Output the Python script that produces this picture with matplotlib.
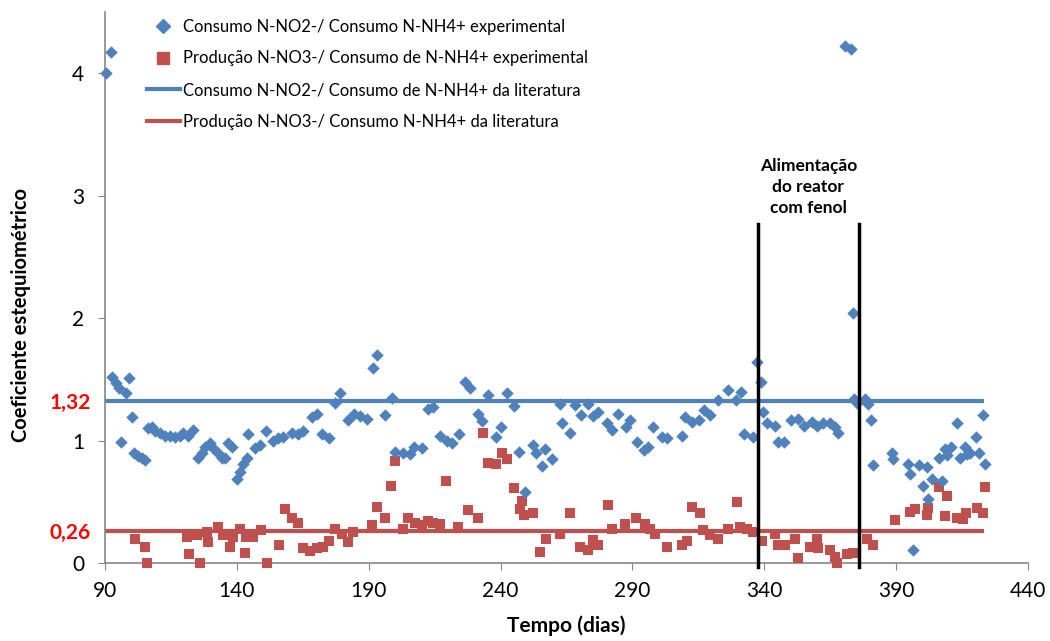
import matplotlib
matplotlib.use("Agg")
import matplotlib.pyplot as plt
from matplotlib.lines import Line2D

plt.rcParams['font.family'] = ['Lato', 'DejaVu Sans']

# Consumo N-NO2- / Consumo N-NH4+ experimental
dias_no2 = [90.4, 92.3, 92.7, 94.2, 95.3, 96.1, 98.0, 99.1, 100.2, 101.0, 102.5, 104.0, 105.2, 106.3, 107.8,
            109.0, 110.9, 112.8, 114.6, 116.5, 118.4, 119.6, 121.5, 123.4, 125.3, 126.8, 127.9, 129.8, 131.0,
            132.9, 134.4, 135.5, 136.6, 138.2, 140.1, 141.2, 142.3, 143.8, 144.2, 146.9, 148.8, 151.1, 153.7,
            155.6, 157.5, 160.9, 163.2, 165.1, 168.5, 170.4, 172.3, 174.9, 177.2, 179.1, 182.2, 184.4, 186.7,
            189.4, 191.6, 193.1, 196.2, 198.8, 200.0, 203.0, 205.7, 207.2, 210.2, 212.5, 214.4, 217.0, 219.7,
            221.6, 224.2, 226.5, 228.4, 231.4, 233.0, 235.2, 238.3, 240.2, 242.4, 245.1, 247.0, 249.3, 252.3,
            253.4, 255.7, 256.9, 259.5, 262.5, 263.3, 266.3, 268.2, 270.5, 273.2, 275.1, 277.0, 280.4, 282.3,
            284.5, 287.6, 289.1, 291.7, 294.4, 296.0, 297.8, 301.2, 303.1, 308.8, 310.0, 312.6, 315.3, 317.2,
            319.4, 322.5, 326.3, 329.3, 331.2, 332.3, 335.7, 337.3, 338.8, 339.5, 341.0, 344.1, 345.2, 347.5,
            350.1, 352.8, 355.1, 358.1, 360.0, 362.3, 364.9, 366.8, 368.0, 370.6, 372.9, 373.7, 374.0, 375.2,
            378.2, 379.4, 380.5, 381.2, 388.4, 388.8, 394.5, 395.3, 396.4, 398.7, 400.2, 401.7, 402.1, 403.6,
            406.3, 407.4, 408.5, 409.3, 410.8, 413.1, 414.2, 416.1, 416.9, 418.0, 420.3, 421.4, 422.9, 423.7]
coef_no2 = [4.00, 4.17, 1.52, 1.47, 1.43, 0.99, 1.39, 1.51, 1.19, 0.90, 0.87, 0.86, 0.84, 1.10, 1.11,
            1.08, 1.06, 1.04, 1.04, 1.03, 1.04, 1.06, 1.04, 1.09, 0.86, 0.90, 0.95, 0.98, 0.94,
            0.90, 0.86, 0.86, 0.98, 0.95, 0.69, 0.74, 0.81, 0.86, 1.05, 0.94, 0.96, 1.08, 1.00,
            1.02, 1.03, 1.06, 1.05, 1.08, 1.19, 1.22, 1.05, 1.02, 1.31, 1.39, 1.17, 1.22, 1.20,
            1.18, 1.59, 1.70, 1.21, 1.35, 0.91, 0.90, 0.89, 0.95, 0.94, 1.26, 1.27, 1.04, 1.00,
            0.98, 1.05, 1.48, 1.43, 1.22, 1.16, 1.37, 1.03, 1.11, 1.39, 1.28, 0.91, 0.58, 0.96,
            0.90, 0.79, 0.93, 0.85, 1.30, 1.14, 1.06, 1.29, 1.21, 1.30, 1.20, 1.23, 1.14, 1.09,
            1.22, 1.11, 1.17, 0.99, 0.92, 0.95, 1.11, 1.03, 1.02, 1.04, 1.19, 1.15, 1.17, 1.25,
            1.21, 1.33, 1.41, 1.33, 1.40, 1.05, 1.03, 1.64, 1.48, 1.23, 1.14, 1.12, 0.99, 0.99,
            1.17, 1.18, 1.12, 1.15, 1.12, 1.14, 1.14, 1.11, 1.06, 4.22, 4.20, 2.04, 1.34, 1.31,
            1.34, 1.30, 1.17, 0.80, 0.90, 0.85, 0.81, 0.73, 0.11, 0.80, 0.63, 0.78, 0.52, 0.69,
            0.86, 0.67, 0.93, 0.88, 0.95, 1.14, 0.86, 0.95, 0.89, 0.90, 1.03, 0.90, 1.21, 0.81]

# Producao N-NO3- / Consumo de N-NH4+ experimental
dias_no3 = [101.4, 105.2, 105.9, 121.1, 121.9, 124.9, 126.0, 128.7, 129.2, 132.9, 134.7, 137.4, 138.5,
            141.2, 143.1, 143.6, 146.1, 149.2, 151.4, 156.0, 158.3, 160.8, 163.2, 165.1, 167.7, 170.4,
            172.7, 174.9, 177.2, 179.9, 182.2, 184.0, 191.3, 193.1, 196.2, 198.5, 200.0, 203.0, 205.0,
            207.6, 210.2, 212.5, 214.4, 217.0, 219.3, 223.9, 227.5, 231.4, 233.3, 235.2, 238.3, 240.5,
            242.4, 245.1, 247.4, 248.1, 248.9, 252.3, 255.0, 257.2, 262.5, 266.3, 270.1, 273.2, 275.1,
            277.0, 280.7, 282.3, 287.2, 291.4, 294.8, 296.7, 298.6, 303.1, 308.8, 310.7, 312.6, 315.6,
            316.8, 319.4, 322.5, 326.3, 329.7, 330.8, 333.5, 335.7, 339.3, 343.9, 345.2, 347.9, 351.7,
            352.8, 357.3, 360.0, 360.5, 364.9, 366.8, 367.6, 371.4, 373.7, 379.0, 381.2, 389.6, 395.3,
            397.2, 401.7, 402.1, 406.3, 408.5, 409.3, 413.1, 415.4, 416.5, 420.7, 423.0, 423.7]
coef_no3 = [0.20, 0.13, 0.00, 0.21, 0.07, 0.23, 0.00, 0.25, 0.17, 0.29, 0.23, 0.13, 0.21,
            0.28, 0.08, 0.21, 0.21, 0.27, 0.00, 0.15, 0.44, 0.37, 0.33, 0.12, 0.10, 0.12,
            0.13, 0.18, 0.28, 0.24, 0.17, 0.25, 0.31, 0.46, 0.37, 0.63, 0.83, 0.28, 0.37,
            0.33, 0.31, 0.34, 0.33, 0.32, 0.67, 0.29, 0.43, 0.37, 1.06, 0.82, 0.81, 0.90,
            0.85, 0.61, 0.44, 0.51, 0.39, 0.41, 0.09, 0.20, 0.24, 0.41, 0.13, 0.11, 0.19,
            0.15, 0.47, 0.28, 0.32, 0.37, 0.32, 0.28, 0.24, 0.13, 0.15, 0.18, 0.46, 0.41,
            0.27, 0.23, 0.20, 0.28, 0.50, 0.29, 0.28, 0.25, 0.18, 0.24, 0.15, 0.15, 0.20,
            0.04, 0.13, 0.20, 0.12, 0.11, 0.05, 0.00, 0.07, 0.08, 0.20, 0.15, 0.35, 0.42,
            0.44, 0.39, 0.45, 0.62, 0.38, 0.55, 0.37, 0.36, 0.41, 0.45, 0.41, 0.62]

# valores da literatura
lit_no2 = 1.32
lit_no3 = 0.26
lit_dias = [90, 423.5]

# periodo de alimentacao com fenol
fenol_inicio = 337.5
fenol_fim = 376.0

azul = '#4F81BD'
vermelho = '#C0504D'
cinza = '#868686'

fig = plt.figure(figsize=(10.5, 6.41), dpi=100)
ax = fig.add_axes([0.1, 0.1217, 0.879, 0.8596])

ax.plot(lit_dias, [lit_no2, lit_no2], color=azul, lw=3, solid_capstyle='butt', zorder=2)
ax.plot(lit_dias, [lit_no3, lit_no3], color=vermelho, lw=3, solid_capstyle='butt', zorder=2)
ax.scatter(dias_no3, coef_no3, marker='s', s=60, color=vermelho, linewidths=0, zorder=3, clip_on=False)
ax.scatter(dias_no2, coef_no2, marker='D', s=40, color=azul, linewidths=0, zorder=4, clip_on=False)

for xv in [fenol_inicio, fenol_fim]:
    ax.plot([xv, xv], [-0.03, 2.77], color='black', lw=2.5, zorder=5, clip_on=False)
ax.text((fenol_inicio + fenol_fim) / 2, 2.83, 'Alimentação\ndo reator\ncom fenol',
        ha='center', va='bottom', fontsize=12.5, fontweight='bold', linespacing=1.4)

ax.set_xlim(90, 440)
ax.set_ylim(0, 4.5)
ax.set_xticks(range(90, 441, 50))
ax.set_yticks([0, lit_no3, 1, lit_no2, 2, 3, 4])
ax.set_yticklabels(['0', '0,26', '1', '1,32', '2', '3', '4'])
ax.tick_params(axis='both', direction='out', length=5, color=cinza, labelsize=15)
ax.tick_params(axis='x', pad=8)
ax.tick_params(axis='y', pad=10)
for i in [1, 3]:
    t = ax.yaxis.get_major_ticks()[i]
    t.tick1line.set_visible(False)
    t.set_pad(5)
    t.label1.set_color('red')
    t.label1.set_fontweight('bold')
for s in ['top', 'right']:
    ax.spines[s].set_visible(False)
for s in ['left', 'bottom']:
    ax.spines[s].set_color(cinza)
    ax.spines[s].set_linewidth(1.2)

ax.set_xlabel('Tempo (dias)', fontsize=15, fontweight='bold', labelpad=10)
ax.set_ylabel('Coeficiente estequiométrico', fontsize=14.5, fontweight='bold')
ax.yaxis.set_label_coords(-0.08, 0.45)

handles = [Line2D([], [], ls='none', marker='D', markersize=7, color=azul),
           Line2D([], [], ls='none', marker='s', markersize=8, color=vermelho),
           Line2D([], [], color=azul, lw=3),
           Line2D([], [], color=vermelho, lw=3)]
labels = ['Consumo N-NO2-/ Consumo N-NH4+ experimental',
          'Produção N-NO3-/ Consumo de N-NH4+ experimental',
          'Consumo N-NO2-/ Consumo de N-NH4+ da literatura',
          'Produção N-NO3-/ Consumo N-NH4+ da literatura']
ax.legend(handles, labels, loc='upper left', bbox_to_anchor=(0.038, 1.0), frameon=False,
          fontsize=12, handlelength=2.0, handletextpad=0.2, labelspacing=0.95, borderaxespad=0)

fig.savefig('out.png', dpi=100)
